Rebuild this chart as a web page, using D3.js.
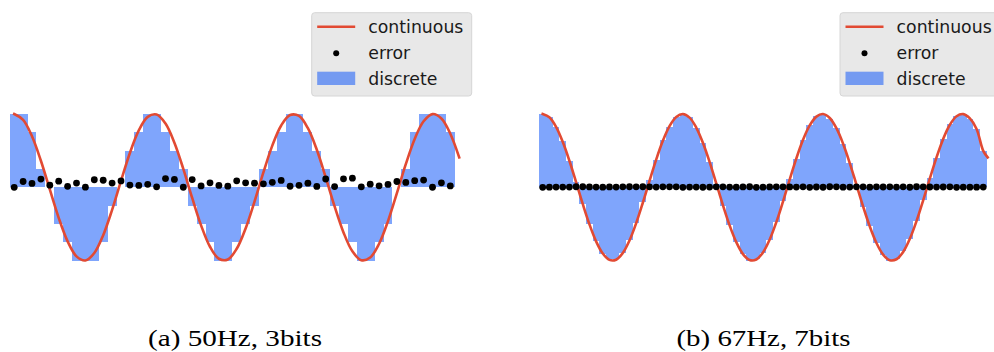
<!DOCTYPE html>
<html>
<head>
<meta charset="utf-8">
<script src="https://cdn.jsdelivr.net/npm/d3@7"></script>
<style>
html,body{margin:0;padding:0;background:#fff;}
svg{display:block;}
</style>
</head>
<body>
<svg id="chart" width="994" height="352"></svg>
<script>
// ---- Panel (a): 50Hz, 3bits ----
const timeA = [0,0.4,0.8,1.2,1.6,2.0,2.4,2.8,3.2,3.6,4.0,4.4,4.8,5.2,5.6,6.0,6.4,6.8,7.2,7.6,8.0,8.4,8.8,9.2,9.6,10.0,10.4,10.8,11.2,11.6,12.0,12.4,12.8,13.2,13.6,14.0,14.4,14.8,15.2,15.6,16.0,16.4,16.8,17.2,17.6,18.0,18.4,18.8,19.2,19.6];
const continuousA = [1.0000,0.9211,0.6967,0.3624,-0.0292,-0.4161,-0.7374,-0.9422,-0.9983,-0.8968,-0.6536,-0.3073,0.0875,0.4685,0.7756,0.9602,0.9932,0.8694,0.6084,0.2513,-0.1455,-0.5193,-0.8111,-0.9748,-0.9847,-0.8391,-0.5610,-0.1943,0.2030,0.5683,0.8439,0.9862,0.9728,0.8059,0.5117,0.1367,-0.2598,-0.6154,-0.8737,-0.9942,-0.9577,-0.7699,-0.4607,-0.0787,0.3157,0.6603,0.9006,0.9988,0.9392,0.7314];
const discreteA = [1,1,0.75,0.25,0,-0.5,-0.75,-1,-1,-1,-0.75,-0.25,0,0.5,0.75,1,1,0.75,0.5,0.25,-0.25,-0.5,-0.75,-1,-1,-0.75,-0.5,-0.25,0.25,0.5,0.75,1,1,0.75,0.5,0.25,-0.25,-0.5,-0.75,-1,-1,-0.75,-0.5,0,0.25,0.75,1,1,1,0.75];
const errorA = [0,0.079,0.053,0.112,0.029,0.084,0.013,0.058,0.002,0.103,0.096,0.057,0.087,0.031,0.026,0.040,0.007,0.119,0.108,0.001,0.105,0.019,0.061,0.025,0.015,0.089,0.061,0.056,0.047,0.068,0.094,0.014,0.027,0.056,0.012,0.113,0.010,0.115,0.124,0.006,0.042,0.020,0.039,0.079,0.066,0.090,0.099,0.001,0.061,0.019];
const stepA = 0.4;

// ---- Panel (b): 67Hz, 7bits ----
const timeB = [0,0.3,0.6,0.9,1.2,1.5,1.8,2.1,2.4,2.7,3.0,3.3,3.6,3.9,4.2,4.5,4.8,5.1,5.4,5.7,6.0,6.3,6.6,6.9,7.2,7.5,7.8,8.1,8.4,8.7,9.0,9.3,9.6,9.9,10.2,10.5,10.8,11.1,11.4,11.7,12.0,12.3,12.6,12.9,13.2,13.5,13.8,14.1,14.4,14.7,15.0,15.3,15.6,15.9,16.2,16.5,16.8,17.1,17.4,17.7,18.0,18.3,18.6,18.9,19.2,19.5,19.8];
const continuousB = [1.0000,0.9553,0.8253,0.6216,0.3624,0.0707,-0.2272,-0.5048,-0.7374,-0.9041,-0.9900,-0.9875,-0.8968,-0.7259,-0.4903,-0.2108,0.0875,0.3780,0.6347,0.8347,0.9602,0.9999,0.9502,0.8157,0.6084,0.3466,0.0540,-0.2435,-0.5193,-0.7486,-0.9111,-0.9922,-0.9847,-0.8892,-0.7143,-0.4755,-0.1943,0.1042,0.3935,0.6476,0.8439,0.9647,0.9994,0.9449,0.8059,0.5949,0.3308,0.0372,-0.2598,-0.5336,-0.7597,-0.9179,-0.9942,-0.9816,-0.8814,-0.7024,-0.4607,-0.1778,0.1209,0.4089,0.6603,0.8528,0.9690,0.9987,0.9392,0.7958,0.4972];
const discreteB = [1,0.9531,0.8281,0.625,0.3594,0.0781,-0.2344,-0.5,-0.7344,-0.9063,-0.9844,-0.9844,-0.8906,-0.7188,-0.4844,-0.2031,0.0938,0.375,0.6406,0.8281,0.9531,1,0.9531,0.8125,0.6094,0.3438,0.0469,-0.25,-0.5156,-0.75,-0.9063,-1,-0.9844,-0.8906,-0.7188,-0.4688,-0.1875,0.1094,0.3906,0.6406,0.8438,0.9688,1,0.9375,0.8125,0.5938,0.3281,0.0313,-0.2656,-0.5313,-0.7656,-0.9219,-1,-0.9844,-0.875,-0.7031,-0.4531,-0.1719,0.125,0.4063,0.6563,0.8594,0.9688,1,0.9375,0.7969,0.5];
const errorB = [0,0.0022,0.0028,0.0034,0.0030,0.0074,0.0072,0.0048,0.0030,0.0022,0.0056,0.0031,0.0061,0.0072,0.0059,0.0077,0.0063,0.0030,0.0059,0.0066,0.0070,0.0001,0.0029,0.0032,0.0010,0.0029,0.0071,0.0065,0.0037,0.0014,0.0049,0.0078,0.0003,0.0014,0.0045,0.0068,0.0068,0.0051,0.0029,0.0070,0.0001,0.0040,0.0006,0.0074,0.0066,0.0012,0.0027,0.0059,0.0058,0.0023,0.0059,0.0039,0.0058,0.0028,0.0064,0.0007,0.0076,0.0059,0.0041,0.0026,0.0041,0.0066,0.0003,0.0013,0.0017,0.0011,0.0028];
const stepB = 0.3;

// continuous curve end point (t = 20)
const endTime = 20;
const endValue = 0.4081;

const legendLabels = ["continuous", "error", "discrete"];
const captions = ["(a) 50Hz, 3bits", "(b) 67Hz, 7bits"];

const panels = [
  {time: timeA, cont: continuousA, disc: discreteA, err: errorA, step: stepA, x0: 14.2, caption: captions[0], legendX: 311.7, capX: 235},
  {time: timeB, cont: continuousB, disc: discreteB, err: errorB, step: stepB, x0: 542.7, caption: captions[1], legendX: 840, capX: 763.5}
];

const RED = "#e24a33";
const BAR = "rgb(0,76,250)";
const pxPerUnit = 22.25;

const svg = d3.select("#chart");
const y = d3.scaleLinear().domain([-1, 1]).range([260.6, 114]);

panels.forEach(p => {
  const x = d3.scaleLinear().domain([0, endTime]).range([p.x0, p.x0 + pxPerUnit * endTime]);
  const g = svg.append("g");
  const y0 = Math.round(y(0));

  // bars (discrete), snapped to whole pixels so neighbours abut without seams
  g.append("g").attr("shape-rendering", "crispEdges").selectAll("rect").data(p.time).join("rect")
    .attr("x", (t) => Math.round(x(t - p.step / 2)))
    .attr("width", (t) => Math.round(x(t + p.step / 2)) - Math.round(x(t - p.step / 2)))
    .attr("y", (t, i) => Math.min(Math.round(y(p.disc[i])), y0))
    .attr("height", (t, i) => Math.abs(Math.round(y(p.disc[i])) - y0))
    .attr("fill", BAR)
    .attr("fill-opacity", 0.5);

  // continuous line
  const pts = p.time.map((t, i) => [t, p.cont[i]]).concat([[endTime, endValue]]);
  g.append("path")
    .attr("d", d3.line().x(d => x(d[0])).y(d => y(d[1])).curve(d3.curveCatmullRom.alpha(0.5))(pts))
    .attr("fill", "none")
    .attr("stroke", RED)
    .attr("stroke-width", 2.6)
    .attr("stroke-linecap", "square");

  // error dots
  g.append("g").selectAll("circle").data(p.time).join("circle")
    .attr("cx", (t) => x(t))
    .attr("cy", (t, i) => y(p.err[i]))
    .attr("r", 3.4)
    .attr("fill", "#000");

  // legend
  const lg = svg.append("g").attr("transform", `translate(${p.legendX},12.7)`);
  lg.append("rect").attr("x", 0).attr("y", 0).attr("width", 160).attr("height", 83.3)
    .attr("rx", 3).attr("fill", "#e8e8e8").attr("stroke", "#d6d6d6").attr("stroke-width", 1);
  lg.append("line").attr("x1", 5.5).attr("x2", 43.5).attr("y1", 14).attr("y2", 14)
    .attr("stroke", RED).attr("stroke-width", 2.6);
  lg.append("circle").attr("cx", 24.5).attr("cy", 40.6).attr("r", 3).attr("fill", "#000");
  lg.append("rect").attr("x", 5.5).attr("y", 59).attr("width", 38).attr("height", 13.3)
    .attr("fill", BAR).attr("fill-opacity", 0.5);
  legendLabels.forEach((lab, i) => {
    lg.append("text").attr("x", 56.6).attr("y", 20.3 + 26 * i)
      .attr("font-family", "DejaVu Sans").attr("font-size", 17.3).attr("fill", "#1a1a1a")
      .text(lab);
  });

  // caption
  svg.append("text").attr("x", p.capX).attr("y", 345.5)
    .attr("text-anchor", "middle")
    .attr("font-family", "Liberation Serif").attr("font-size", 24)
    .attr("textLength", 174).attr("lengthAdjust", "spacingAndGlyphs")
    .attr("fill", "#000")
    .text(p.caption);
});
</script>
</body>
</html>
